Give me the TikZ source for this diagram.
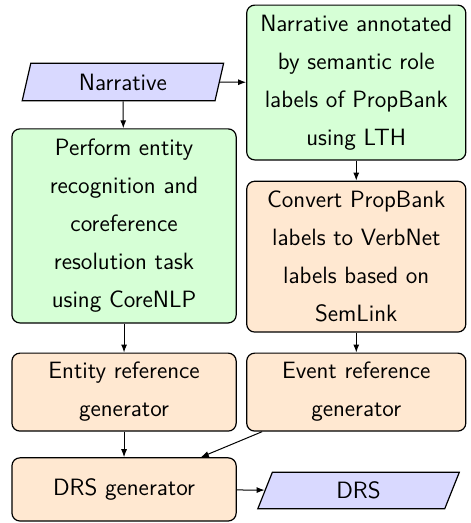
\documentclass[tikz,border=0pt]{standalone}
\usepackage{tikz}
\usetikzlibrary{shapes.geometric,arrows.meta}

\tikzset{
  box/.style={draw, rounded corners=4pt, align=center, line width=0.6pt,
    font={\sffamily\fontsize{11.8}{19}\selectfont}},
  greenbox/.style={box, fill=green!16},
  orangebox/.style={box, fill=orange!18},
  iobox/.style={draw, trapezium, trapezium left angle=81, trapezium right angle=99,
    trapezium stretches=true, fill=blue!15, line width=0.6pt,
    font={\sffamily\fontsize{11.8}{19}\selectfont}},
  flow/.style={-{Latex[length=4pt,width=3pt]}, line width=0.5pt}
}

\begin{document}
\begin{tikzpicture}
  \useasboundingbox (0,0) rectangle (8.26,9.19);

  \node[iobox, minimum width=3.55cm, minimum height=0.66cm] (nar) at (2.16,7.75) {Narrative};

  \node[greenbox, minimum width=3.85cm, minimum height=2.72cm] (lth) at (6.26,7.74)
    {Narrative annotated\\by semantic role\\labels of PropBank\\using LTH};

  \node[greenbox, minimum width=3.94cm, minimum height=3.41cm] (perform) at (2.18,5.22)
    {Perform entity\\recognition and\\coreference\\resolution task\\using CoreNLP};

  \node[orangebox, minimum width=3.85cm, minimum height=2.65cm] (convert) at (6.26,4.68)
    {Convert PropBank\\labels to VerbNet\\labels based on\\SemLink};

  \node[orangebox, minimum width=3.94cm, minimum height=1.37cm] (entity) at (2.18,2.30)
    {Entity reference\\generator};
  \node[orangebox, minimum width=3.85cm, minimum height=1.37cm] (event) at (6.26,2.30)
    {Event reference\\generator};

  \node[orangebox, minimum width=3.94cm, minimum height=1.11cm] (drsgen) at (2.18,0.59)
    {DRS generator};
  \node[iobox, minimum width=3.55cm, minimum height=0.64cm] (drs) at (6.30,0.57) {DRS};

  \draw[flow] (nar) -- (lth);
  \draw[flow] (nar) -- (perform);
  \draw[flow] (lth) -- (convert);
  \draw[flow] (convert) -- (event);
  \draw[flow] (perform) -- (entity);
  \draw[flow] (entity) -- (drsgen);
  \draw[flow] ([xshift=8pt]event.south west) -- ([xshift=-18pt]drsgen.north east);
  \draw[flow] (drsgen) -- (drs);
\end{tikzpicture}
\end{document}
